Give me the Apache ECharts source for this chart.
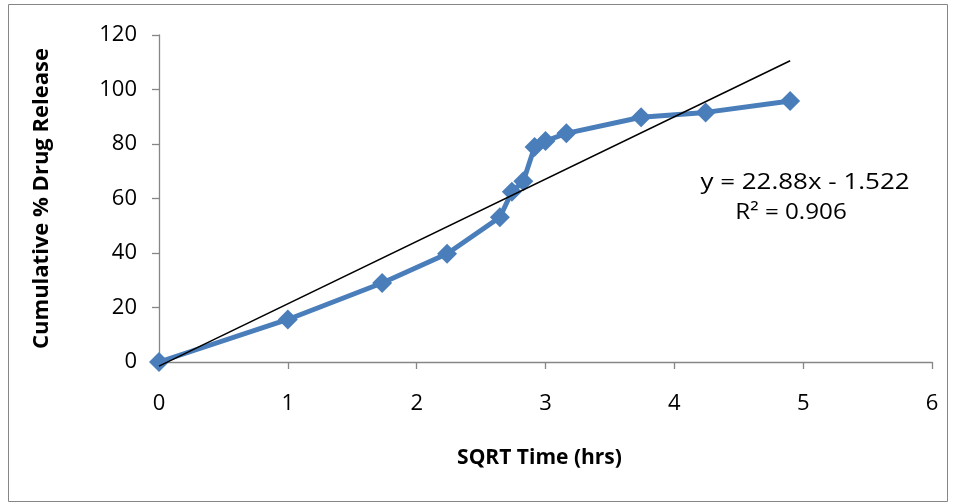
<!DOCTYPE html>
<html>
<head>
<meta charset="utf-8">
<script src="https://cdn.jsdelivr.net/npm/echarts@6/dist/echarts.min.js"></script>
<style>html,body{margin:0;padding:0;background:#fff}#c{width:959px;height:504px}</style>
</head>
<body>
<div id="c"></div>
<script>
const sqrtTime = [0, 1, 1.732, 2.236, 2.646, 2.739, 2.828, 2.915, 3, 3.162, 3.742, 4.243, 4.899];
const release = [0, 15.6, 29.0, 39.7, 53.1, 62.5, 66.3, 78.9, 81.1, 83.9, 89.8, 91.6, 95.8];
const slope = 22.88;
const intercept = -1.522;
const trendX = [0, 4.899];
const xTicks = [0, 1, 2, 3, 4, 5, 6];
const yTicks = [0, 20, 40, 60, 80, 100, 120];
const eqText = 'y = 22.88x - 1.522';
const r2Text = 'R² = 0.906';

const font = "'Open Sans', 'Noto Sans', sans-serif";
const chart = echarts.init(document.getElementById('c'), null, {renderer: 'canvas'});
const axisColor = '#868686';
chart.setOption({
  animation: false,
  backgroundColor: '#fff',
  grid: {left: 159, top: 35, right: 27, bottom: 142, containLabel: false},
  xAxis: {
    type: 'value', min: xTicks[0], max: xTicks[xTicks.length-1], interval: 1,
    name: 'SQRT Time (hrs)', nameLocation: 'middle', nameGap: 86,
    nameTextStyle: {fontFamily: font, fontSize: 21, fontWeight: 'bold', color: '#000', padding: [0, 12, 0, 0]},
    axisLine: {lineStyle: {color: axisColor, width: 1.3}},
    axisTick: {show: true, inside: false, length: 7, lineStyle: {color: axisColor, width: 1.3}},
    axisLabel: {fontFamily: font, fontSize: 22, color: '#000', margin: 31},
    splitLine: {show: false}
  },
  yAxis: {
    type: 'value', min: yTicks[0], max: yTicks[yTicks.length-1], interval: 20,
    name: 'Cumulative % Drug Release', nameLocation: 'middle', nameGap: 106,
    nameTextStyle: {fontFamily: font, fontSize: 22, fontWeight: 'bold', color: '#000'},
    axisLine: {show: true, lineStyle: {color: axisColor, width: 1.3}},
    axisTick: {show: true, length: 7, lineStyle: {color: axisColor, width: 1.3}},
    axisLabel: {fontFamily: font, fontSize: 22, color: '#000', margin: 22},
    splitLine: {show: false}
  },
  graphic: [
    {type: 'rect', shape: {x: 8.5, y: 4.5, width: 939, height: 497}, style: {fill: 'none', stroke: axisColor, lineWidth: 1}, silent: true, z: -1},
    {type: 'text', x: 805, y: 183, scaleX: 1.18, style: {text: eqText, font: "22px " + font, fill: '#000', align: 'center', verticalAlign: 'middle'}},
    {type: 'text', x: 791, y: 213, scaleX: 1.1, style: {text: r2Text, font: "22px " + font, fill: '#000', align: 'center', verticalAlign: 'middle'}}
  ],
  series: [
    {
      type: 'line', data: sqrtTime.map((x, i) => [x, release[i]]),
      symbol: 'diamond', symbolSize: 20,
      lineStyle: {color: '#4A7EBB', width: 5},
      itemStyle: {color: '#4A7EBB'},
      z: 2
    },
    {
      type: 'line', data: trendX.map(x => [x, slope * x + intercept]),
      symbol: 'none', clip: false,
      lineStyle: {color: '#000', width: 1.5},
      z: 3
    }
  ]
});
</script>
</body>
</html>
